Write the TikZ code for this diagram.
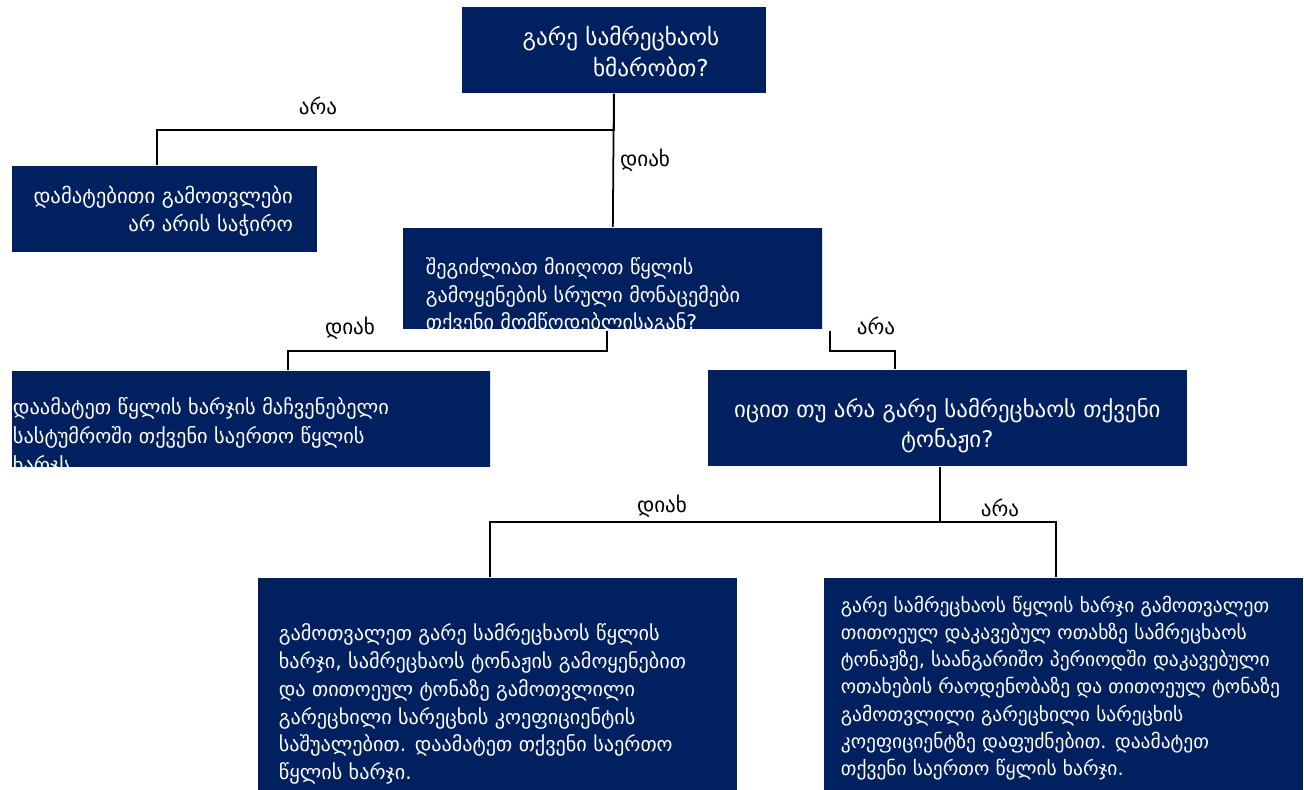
\documentclass[tikz,border=0pt]{standalone}
\usepackage{fontspec}
\setmainfont{DejaVu Sans}
\definecolor{navy}{RGB}{0,32,96}
% fixed size text block: height, width, top gap, text
\newcommand{\boxtext}[4]{\parbox[c][#1][t]{#2}{\vspace*{#3}#4}}

\begin{document}
\begin{tikzpicture}[x=0.02cm,y=-0.02cm,
  line width=1pt,box node/.style={fill=navy,text=white,inner sep=0pt,anchor=north west},
  label node/.style={font=\fontsize{12}{14}\selectfont}]

  \useasboundingbox (0,0) rectangle (1304,790);

  \node[box node] (11) at (461,6) {\boxtext{1.72cm}{6.08cm}{0.38cm}{\fontsize{13.2}{17.5}\selectfont\centering
    \hspace*{0.28cm}გარე სამრეცხაოს\\ \hspace*{1.48cm}ხმარობთ?\par}};
  \node[box node] (21) at (11,165) {\boxtext{1.72cm}{6.10cm}{0.40cm}{\fontsize{11.8}{16}\selectfont\raggedleft\rightskip=0.48cm
    დამატებითი გამოთვლები\\ არ არის საჭირო\par}};
\begin{scope}
  \clip (402,227) rectangle (822,329);
  \node[box node] (22) at (402,227) {\boxtext{2.04cm}{8.40cm}{0.60cm}{\fontsize{11.5}{15.5}\selectfont\raggedright\leftskip=0.46cm
    შეგიძლიათ მიიღოთ  წყლის\\ გამოყენების სრული მონაცემები\\ თქვენი მომწოდებლისაგან?\par}};
\end{scope}
\begin{scope}
  \clip (11,370) rectangle (490,466);
  \node[box node] (31) at (11,370) {\boxtext{1.92cm}{9.58cm}{0.54cm}{\fontsize{11.6}{16.5}\selectfont\raggedright\leftskip=0.02cm
    დაამატეთ წყლის ხარჯის მაჩვენებელი\\ სასტუმროში თქვენი საერთო წყლის\\ ხარჯს\par}};
\end{scope}
  \node[box node] (32) at (707,369) {\boxtext{1.92cm}{9.58cm}{0.57cm}{\fontsize{13}{17}\selectfont\centering
    იცით თუ არა გარე სამრეცხაოს თქვენი\\ ტონაჟი?\par}};
  \node[box node] (41) at (257,577) {\boxtext{4.26cm}{9.58cm}{0.92cm}{\fontsize{11.5}{15.8}\selectfont\raggedright\leftskip=0.42cm
    გამოთვალეთ გარე  სამრეცხაოს წყლის\\ ხარჯი, სამრეცხაოს ტონაჟის გამოყენებით\\ და თითოეულ ტონაზე გამოთვლილი\\ გარეცხილი  სარეცხის კოეფიციენტის\\ საშუალებით. დაამატეთ თქვენი საერთო\\ წყლის ხარჯი.\par}};
  \node[box node] (42) at (823,577) {\boxtext{4.26cm}{9.58cm}{0.36cm}{\fontsize{11.1}{15.5}\selectfont\raggedright\leftskip=0.34cm
    გარე სამრეცხაოს წყლის ხარჯი გამოთვალეთ\\ თითოეულ დაკავებულ ოთახზე სამრეცხაოს\\ ტონაჟზე, საანგარიშო პერიოდში დაკავებული\\ ოთახების რაოდენობაზე და თითოეულ ტონაზე\\ გამოთვლილი გარეცხილი  სარეცხის\\ კოეფიციენტზე დაფუძნებით. დაამატეთ\\ თქვენი საერთო წყლის ხარჯი.\par}};

  \node[label node] (l1) at (318,106) {არა};
  \node[label node] (l2) at (350,328) {დიახ};
  \node[label node] (l3) at (876,326) {არა};
  \node[label node] (l4) at (662,506) {დიახ};
  \node[label node] (l5) at (1000,508) {არა};

  \draw (11.south) -- ++(0,36) -| ([xshift=-0.15cm]21.north);
  \draw (11.south) to node [right,label node]{დიახ} (22.north);
  \draw ([xshift=-0.12cm]22.south) -- ++(0,20) -| ([xshift=0.73cm]31.north);
  \draw ([xshift=0.12cm]22.south east) -- ++(0,20) -| ([xshift=-1.04cm]32.north);
  \draw ([xshift=-0.15cm]32.south) -- ++(0,55) -| ([xshift=-0.15cm]41.north);
  \draw ([xshift=-0.15cm]32.south) -- ++(0,55) -| ([xshift=-0.15cm]42.north);
\end{tikzpicture}
\end{document}
